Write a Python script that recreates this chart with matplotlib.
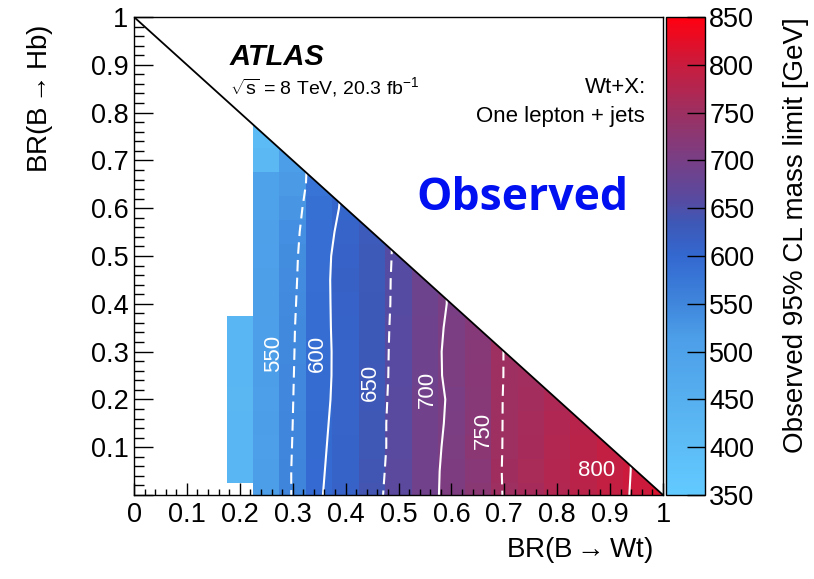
import numpy as np
import matplotlib.pyplot as plt
from matplotlib.colors import LinearSegmentedColormap, Normalize
from matplotlib.patches import Polygon
from matplotlib.ticker import FixedLocator, FixedFormatter, MultipleLocator

plt.rcParams['font.family'] = ['Liberation Sans', 'DejaVu Sans']
plt.rcParams['mathtext.fontset'] = 'custom'
plt.rcParams['mathtext.rm'] = 'Liberation Sans'
plt.rcParams['mathtext.it'] = 'Liberation Sans:italic'
plt.rcParams['mathtext.bf'] = 'Liberation Sans:bold'
plt.rcParams['axes.linewidth'] = 1.0

# cell centres of the BR scan
br_wt = [0.20, 0.25, 0.30, 0.35, 0.40, 0.45, 0.50, 0.55, 0.60,
         0.65, 0.70, 0.75, 0.80, 0.85, 0.90, 0.95, 1.00]
br_hb = [0.00, 0.05, 0.10, 0.15, 0.20, 0.25, 0.30, 0.35,
         0.40, 0.45, 0.50, 0.55, 0.60, 0.65, 0.70, 0.75]

# observed limit [GeV], one list per BR(B->Wt) column, from BR(B->Hb)=0 upwards
obs_limit = [
    [np.nan, 425, 426, 425, 424, 425, 426, 425],
    [515, 516, 514, 515, 513, 515, 516, 514, 512, 512, 510, 506, 502, 500, 420, 405],
    [552, 552, 551, 550, 549, 548, 547, 546, 544, 542, 540, 536, 528, 520, 515],
    [598, 597, 596, 595, 594, 593, 592, 592, 591, 590, 590, 589, 588, 580],
    [612, 611, 610, 609, 608, 608, 609, 610, 612, 614, 612, 608, 604],
    [640, 638, 636, 636, 635, 634, 633, 633, 632, 631, 630, 628],
    [664, 663, 662, 662, 661, 660, 660, 659, 658, 658, 657],
    [691, 690, 690, 690, 690, 689, 688, 688, 686, 686],
    [708, 708, 706, 704, 703, 706, 707, 705, 703],
    [724, 722, 725, 722, 720, 722, 720, 718],
    [752, 753, 752, 752, 752, 751, 751],
    [762, 764, 762, 760, 758, 756],
    [772, 774, 772, 770, 768],
    [782, 784, 782, 780],
    [792, 793, 792],
    [803, 802],
    [815],
]

contour_levels = [550, 600, 650, 700, 750, 800]
contour_dashed = [True, False, True, False, True, False]
# where each level is annotated (x, y, rotation)
contour_text_pos = [(0.263, 0.297, 90), (0.346, 0.297, 90), (0.446, 0.236, 90),
                    (0.554, 0.220, 90), (0.660, 0.136, 90), (0.875, 0.052, 0)]

tick_vals = [0, 0.1, 0.2, 0.3, 0.4, 0.5, 0.6, 0.7, 0.8, 0.9, 1.0]
tick_labels = ['0', '0.1', '0.2', '0.3', '0.4', '0.5', '0.6', '0.7', '0.8', '0.9', '1']
cbar_ticks = [350, 400, 450, 500, 550, 600, 650, 700, 750, 800, 850]

# palette: light blue -> blue -> purple -> red
zmin, zmax = 350, 850
palette = [(350, '#62CAFF'), (425, '#5AB6F2'), (515, '#4C9EE8'), (550, '#3F86DC'),
           (600, '#3368D0'), (635, '#3E58B6'), (660, '#584AA0'), (700, '#783F86'),
           (750, '#9C3062'), (800, '#C81C3E'), (850, '#FF0010')]
cmap = LinearSegmentedColormap.from_list(
    'limit', [((v - zmin) / (zmax - zmin), c) for v, c in palette])

Z = np.full((len(br_hb), len(br_wt)), np.nan)
for j, col in enumerate(obs_limit):
    Z[:len(col), j] = col

# for the contours, continue each column past the kinematic edge so the
# lines run all the way up to the diagonal
Zc = Z.copy()
for j in range(Zc.shape[1]):
    col = Zc[:, j]
    valid = np.where(~np.isnan(col))[0]
    col[:valid[0]] = col[valid[0]]
    col[valid[-1] + 1:] = col[valid[-1]]

fig = plt.figure(figsize=(8.14, 5.79), dpi=100)
ax = fig.add_axes([134 / 814, 1 - 495 / 579, 529 / 814, 478 / 579])
cax = fig.add_axes([666 / 814, 1 - 495 / 579, 39 / 814, 478 / 579])

norm = Normalize(vmin=zmin, vmax=zmax)
mesh = ax.pcolormesh(br_wt, br_hb, np.ma.masked_invalid(Z), cmap=cmap,
                     norm=norm, shading='nearest', zorder=1)

tri = Polygon([(0, 0), (0, 1), (1, 0)], closed=True, transform=ax.transData)
mesh.set_clip_path(tri)

cs = ax.contour(br_wt, br_hb, Zc, levels=contour_levels, colors='white',
                linewidths=1.5, zorder=2)
cs.set_linestyles([(0, (5.5, 3)) if d else 'solid' for d in contour_dashed])
cs.set_clip_path(tri)

for lev, (tx, ty, rot) in zip(contour_levels, contour_text_pos):
    ax.text(tx, ty, str(lev), color='white', fontsize=16, rotation=rot,
            ha='center', va='center', zorder=3)

# BR(Wt) + BR(Hb) = 1 boundary
ax.plot([0, 1], [1, 0], color='black', lw=1.3, zorder=3)

ax.set_xlim(0, 1)
ax.set_ylim(0, 1)
ax.set_axisbelow(False)

ax.xaxis.set_major_locator(FixedLocator(tick_vals))
ax.xaxis.set_major_formatter(FixedFormatter(tick_labels))
ax.yaxis.set_major_locator(FixedLocator(tick_vals))
ax.yaxis.set_major_formatter(FixedFormatter([''] + tick_labels[1:]))
ax.xaxis.set_minor_locator(MultipleLocator(0.02))
ax.yaxis.set_minor_locator(MultipleLocator(0.02))

ax.tick_params(axis='y', which='major', direction='in', length=14, width=1,
               labelsize=19.5, pad=4, right=False)
ax.tick_params(axis='y', which='minor', direction='in', length=7, width=1, right=False)
ax.tick_params(axis='x', which='major', direction='in', length=8.5, width=1,
               labelsize=19.5, pad=5, top=False)
ax.tick_params(axis='x', which='minor', direction='in', length=4.3, width=1, top=False)

ax.set_xlabel(r'BR(B$\rightarrow$Wt)', fontsize=20, loc='right')
ax.xaxis.set_label_coords(0.98, -0.083)
ax.set_ylabel(r'BR(B$\rightarrow$Hb)', fontsize=20, loc='top')
ax.yaxis.set_label_coords(-0.15, 0.985)

ax.text(0.181, 0.900, 'ATLAS', fontsize=21, fontweight='bold', fontstyle='italic')
ax.text(0.181, 0.839, r'$\sqrt{\mathrm{s}}$ = 8 TeV, 20.3 fb$^{\mathrm{-1}}$', fontsize=14)
ax.text(0.969, 0.841, 'Wt+X:', ha='right', fontsize=16)
ax.text(0.966, 0.780, 'One lepton + jets', ha='right', fontsize=16)
ax.text(0.734, 0.596, 'Observed', ha='center', va='baseline', fontsize=32,
        fontweight='bold', color='#0010F0', family=['Open Sans', 'DejaVu Sans'])

cb = fig.colorbar(mesh, cax=cax)
cb.set_ticks(cbar_ticks)
cb.outline.set_linewidth(1.0)
cax.tick_params(direction='in', length=13, width=1, labelsize=19.5, pad=3,
                right=True, left=False)
cax.minorticks_off()
cb.set_label('Observed 95% CL mass limit [GeV]', fontsize=20, loc='top')
cax.yaxis.set_label_coords(3.0, 1.0)

fig.savefig('out.png', dpi=100)
